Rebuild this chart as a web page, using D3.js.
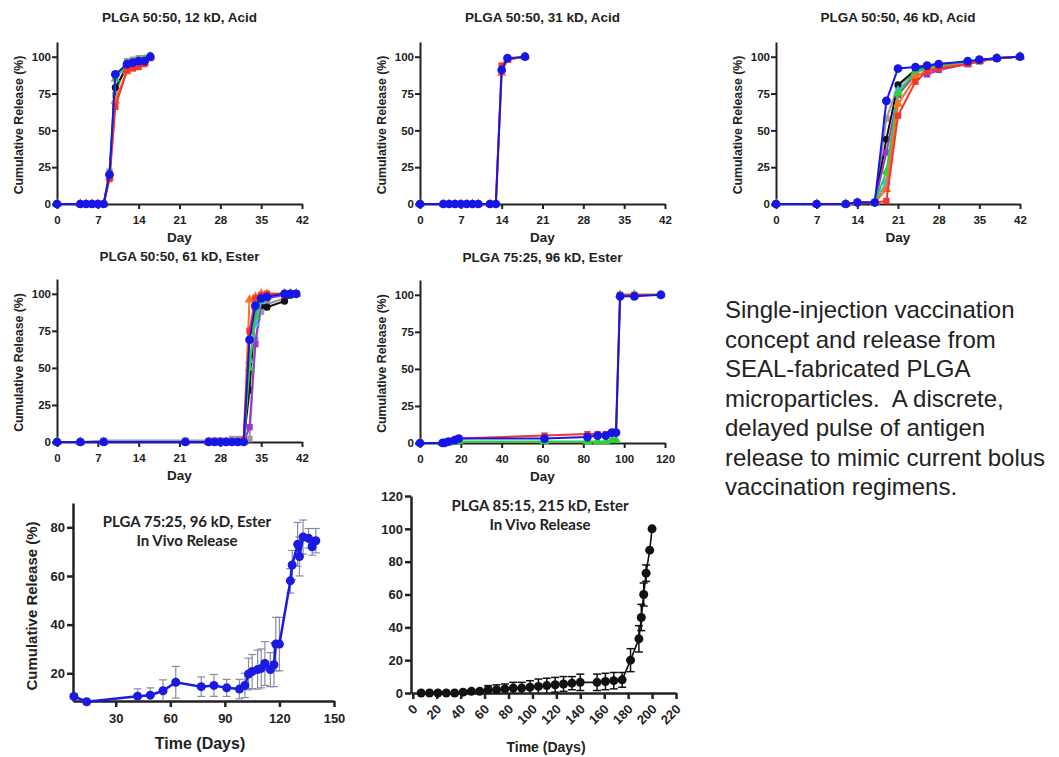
<!DOCTYPE html>
<html>
<head>
<meta charset="utf-8">
<script src="https://cdn.jsdelivr.net/npm/d3@7"></script>
<style>
  body { margin: 0; background: #fff; }
  svg { display: block; }
  .axis path, .axis line { stroke: #222; }
  .axis text { fill: #222; font-family: "Liberation Sans", Arial, sans-serif; font-weight: bold; }
</style>
</head>
<body>
<div id="chart"></div>
<script>
// ---- data ----
// panel 1 : PLGA 50:50, 12 kD, Acid
var p1Days = [0, 4, 5, 6, 7, 8, 9, 10, 12, 13, 14, 15, 16];
var p1Gray = [0, 0, 0, 0, 0, 0, 22, 74, 97, 98, 99, 99, 100];
var p1Black = [0, 0, 0, 0, 0, 0, 19, 79, 93, 95, 96, 97, 100];
var p1Green = [0, 0, 0, 0, 0, 0, 21, 85, 95, 96, 97, 98, 100];
var p1Orange = [0, 0, 0, 0, 0, 0, 18, 70, 90, 93, 95, 96, 100];
var p1Red = [0, 0, 0, 0, 0, 0, 17, 66, 91, 92, 93, 95, 99];
var p1Blue = [0, 0, 0, 0, 0, 0, 20, 88, 95, 96, 97, 97, 100];

// panel 2 : PLGA 50:50, 31 kD, Acid
var p2Days = [0, 4, 5, 6, 7, 8, 9, 10, 12, 13, 14, 15, 18];
var p2Orange = [0, 0, 0, 0, 0, 0, 0, 0, 0, 0, 89, 98, 100];
var p2Red = [0, 0, 0, 0, 0, 0, 0, 0, 0, 0, 94, 98, 100];
var p2Blue = [0, 0, 0, 0, 0, 0, 0, 0, 0, 0, 91, 99, 100];

// panel 3 : PLGA 50:50, 46 kD, Acid
var p3Days = [0, 7, 12, 14, 17, 19, 21, 24, 26, 28, 33, 35, 38, 42];
var p3Gray = [0, 0, 0, 1, 1, 58, 80, 90, 93, 94, 96, 97, 99, 100];
var p3Black = [0, 0, 0, 1, 1, 44, 81, 91, 94, 95, 96, 98, 99, 100];
var p3Purple = [0, 0, 0, 1, 1, 35, 74, 88, 88, 91, 95, 97, 99, 100];
var p3Cyan = [0, 0, 0, 1, 1, 15, 77, 89, 92, 93, 95, 97, 99, 100];
var p3Green = [0, 0, 0, 1, 1, 22, 75, 90, 93, 94, 96, 97, 99, 100];
var p3Orange = [0, 0, 0, 1, 1, 10, 68, 86, 91, 93, 95, 97, 99, 100];
var p3Red = [0, 0, 0, 1, 1, 2, 60, 83, 90, 92, 95, 97, 99, 100];
var p3Blue = [0, 0, 0, 1, 1, 70, 92, 93, 94, 95, 97, 98, 99, 100];

// panel 4 : PLGA 50:50, 61 kD, Ester
var p4Days = [0, 4, 8, 22, 26, 27, 28, 29, 30, 31, 32, 33, 34, 35, 36, 39, 40, 41];
var p4Gray = [0, 0, 1, 1, 1, 1, 1, 1, 2, 2, 2, 2, 69, 88, 93, 97, 99, 100];
var p4Black = [0, 0, 0, 0, 0, 0, 0, 0, 0, 0, 0, 35, 90, 92, 91, 95, 99, 100];
var p4Purple = [0, 0, 0, 0, 0, 0, 0, 0, 0, 0, 0, 10, 66, 95, 97, 99, 100, 100];
var p4Cyan = [0, 0, 0, 0, 0, 0, 0, 0, 0, 0, 0, 55, 80, 95, 98, 100, 100, 100];
var p4Green = [0, 0, 0, 0, 0, 0, 0, 0, 0, 0, 0, 50, 85, 96, 98, 100, 100, 100];
var p4Orange = [0, 0, 0, 0, 0, 0, 0, 0, 0, 0, 2, 96, 98, 100, 100, 100, 100, 100];
var p4Red = [0, 0, 0, 0, 0, 0, 0, 0, 0, 0, 1, 75, 97, 99, 100, 100, 100, 100];
var p4Blue = [0, 0, 0, 0, 0, 0, 0, 0, 0, 0, 0, 69, 92, 97, 98, 100, 100, 100];

// panel 5 : PLGA 75:25, 96 kD, Ester
var p5Days = [0, 11, 12, 14, 17, 19, 61, 82, 87, 91, 94, 96, 98, 105, 118];
var p5Green = [0, 0, 0, 0, 1, 1, 1, 1, 1, 1, 2, 2, 100, 100, 100];
var p5Red = [0, 0, 0, 1, 2, 3, 5, 6, 6, 6, 7, 7, 100, 100, 100];
var p5Blue = [0, 0, 0, 1, 2, 3, 3, 4, 5, 5, 7, 7, 99, 99, 100];

// panel 6 : PLGA 75:25, 96 kD, Ester, in vivo
var p6Days = [7, 14, 42, 49, 56, 63, 77, 84, 91, 98, 101, 103, 105, 108, 110, 112, 115, 117, 118, 120, 126, 127, 130, 131, 133, 136, 138, 140];
var p6Mean = [10.5, 8.3, 10.6, 11, 12.8, 16.3, 14.5, 15, 14, 13.5, 15, 19.7, 20.7, 21.5, 22, 24, 21.5, 23.5, 32, 32, 58, 64.5, 73, 68, 76, 75.5, 72, 74.5];
var p6Err = [1, 0.5, 3, 3, 4.5, 6.5, 4, 4.5, 3.5, 4, 5, 6.5, 7, 8, 8, 9, 7, 9, 11, 11, 5, 6, 9, 8, 7, 4, 3.5, 5];

// panel 7 : PLGA 85:15, 215 kD, Ester, in vivo
var p7Days = [7, 14, 21, 28, 35, 42, 49, 56, 63, 70, 77, 84, 91, 98, 105, 112, 119, 126, 133, 140, 154, 161, 168, 175, 182, 189, 191, 193, 195, 198, 200];
var p7Mean = [0, 0, 0, 0, 0, 0.5, 1, 1, 2, 2, 2.5, 3, 3, 3.5, 4, 4.5, 5, 5.5, 6, 6.5, 6.5, 7, 7.5, 8, 20, 33, 46, 60, 73, 87, 100];
var p7Err = [0, 0, 0, 0, 0, 0.5, 1, 1, 2.5, 3, 3, 3.5, 3.5, 4, 4.5, 4.5, 4.5, 4.5, 4, 5, 5, 5, 5, 4.5, 7, 8, 8, 7, 5, 0, 0];

var dayTicks42 = [0, 7, 14, 21, 28, 35, 42];
var dayTicks120 = [0, 20, 40, 60, 80, 100, 120];
var pctTicks = [0, 25, 50, 75, 100];
var vivoXTicks = [30, 60, 90, 120, 150];
var vivoYTicks = [20, 40, 60, 80];
var vivo2XTicks = d3.range(0, 221, 20);
var vivo2YTicks = d3.range(0, 121, 20);

var noteLines = [
  "Single-injection vaccination",
  "concept and release from",
  "SEAL-fabricated PLGA",
  "microparticles.  A discrete,",
  "delayed pulse of antigen",
  "release to mimic current bolus",
  "vaccination regimens."
];

// colours / symbols per series
var styles = {
  gray:   { color: "#9a9a9a", sym: d3.symbolSquare },
  black:  { color: "#111111", sym: d3.symbolCircle },
  purple: { color: "#9b35cf", sym: d3.symbolSquare },
  cyan:   { color: "#3cb8ea", sym: d3.symbolTriangle },
  green:  { color: "#2ed03a", sym: d3.symbolTriangle },
  orange: { color: "#ff6e1e", sym: d3.symbolTriangle },
  red:    { color: "#f2362a", sym: d3.symbolSquare },
  blue:   { color: "#1616e8", sym: d3.symbolCircle }
};

var W = 1059, H = 757;
var svg = d3.select("#chart").append("svg")
    .attr("width", W)
    .attr("height", H);

var font = "'Liberation Sans', Arial, sans-serif";

// small in-vitro panels
function smallPanel(cfg) {
  var x = d3.scaleLinear().domain(cfg.xDomain).range([cfg.left, cfg.right]);
  var y = d3.scaleLinear().domain([0, 110]).range([cfg.bottom, cfg.top]);
  var g = svg.append("g");

  g.append("g").attr("class", "axis")
      .attr("transform", `translate(0, ${cfg.bottom})`)
      .call(d3.axisBottom(x).tickValues(cfg.xTicks).tickSize(5).tickSizeOuter(0))
      .call(a => a.selectAll("path,line").attr("stroke-width", 2))
      .call(a => a.selectAll("text").attr("font-size", 11.5).attr("y", 12));

  g.append("g").attr("class", "axis")
      .attr("transform", `translate(${cfg.left}, 0)`)
      .call(d3.axisLeft(y).tickValues(pctTicks).tickSize(5).tickSizeOuter(0))
      .call(a => a.selectAll("path,line").attr("stroke-width", 2))
      .call(a => a.selectAll("text").attr("font-size", 11.5).attr("x", -6));

  var line = d3.line().x(d => x(d[0])).y(d => y(d[1]));
  cfg.series.forEach(function (s) {
    var st = styles[s.key];
    var pts = cfg.days.map((d, i) => [d, s.vals[i]]);
    g.append("path")
        .attr("d", line(pts))
        .attr("fill", "none")
        .attr("stroke", st.color)
        .attr("stroke-width", 2);
    g.selectAll(null).data(pts).enter().append("path")
        .attr("transform", d => `translate(${x(d[0])}, ${y(d[1])})`)
        .attr("d", d3.symbol().type(st.sym).size(s.key === "blue" ? 60 : 40))
        .attr("fill", st.color);
  });

  g.append("text")
      .attr("x", (cfg.left + cfg.right) / 2)
      .attr("y", cfg.titleY)
      .attr("text-anchor", "middle")
      .attr("font-family", font).attr("font-weight", "bold").attr("font-size", 13.5)
      .attr("fill", "#222")
      .text(cfg.title);

  g.append("text")
      .attr("x", (cfg.left + cfg.right) / 2)
      .attr("y", cfg.bottom + 38)
      .attr("text-anchor", "middle")
      .attr("font-family", font).attr("font-weight", "bold").attr("font-size", 13.5)
      .attr("fill", "#222")
      .text("Day");

  g.append("text")
      .attr("transform", `translate(${cfg.left - 34}, ${(cfg.top + cfg.bottom) / 2 + 2}) rotate(-90)`)
      .attr("text-anchor", "middle")
      .attr("font-family", font).attr("font-weight", "bold").attr("font-size", 12.3)
      .attr("fill", "#222")
      .text("Cumulative Release (%)");
}

smallPanel({
  title: "PLGA 50:50, 12 kD, Acid", titleY: 22,
  left: 57, right: 302, top: 42, bottom: 204,
  xDomain: [0, 42], xTicks: dayTicks42, days: p1Days,
  series: [
    { key: "gray", vals: p1Gray }, { key: "black", vals: p1Black },
    { key: "green", vals: p1Green }, { key: "orange", vals: p1Orange },
    { key: "red", vals: p1Red }, { key: "blue", vals: p1Blue }
  ]
});

smallPanel({
  title: "PLGA 50:50, 31 kD, Acid", titleY: 22,
  left: 420, right: 665, top: 42, bottom: 204,
  xDomain: [0, 42], xTicks: dayTicks42, days: p2Days,
  series: [
    { key: "orange", vals: p2Orange }, { key: "red", vals: p2Red },
    { key: "blue", vals: p2Blue }
  ]
});

smallPanel({
  title: "PLGA 50:50, 46 kD, Acid", titleY: 22,
  left: 776, right: 1020, top: 42, bottom: 204,
  xDomain: [0, 42], xTicks: dayTicks42, days: p3Days,
  series: [
    { key: "gray", vals: p3Gray }, { key: "black", vals: p3Black },
    { key: "purple", vals: p3Purple }, { key: "cyan", vals: p3Cyan },
    { key: "green", vals: p3Green }, { key: "orange", vals: p3Orange },
    { key: "red", vals: p3Red }, { key: "blue", vals: p3Blue }
  ]
});

smallPanel({
  title: "PLGA 50:50, 61 kD, Ester", titleY: 261,
  left: 57, right: 302, top: 279, bottom: 442,
  xDomain: [0, 42], xTicks: dayTicks42, days: p4Days,
  series: [
    { key: "gray", vals: p4Gray }, { key: "black", vals: p4Black },
    { key: "purple", vals: p4Purple }, { key: "cyan", vals: p4Cyan },
    { key: "green", vals: p4Green }, { key: "orange", vals: p4Orange },
    { key: "red", vals: p4Red }, { key: "blue", vals: p4Blue }
  ]
});

smallPanel({
  title: "PLGA 75:25, 96 kD, Ester", titleY: 262,
  left: 420, right: 665, top: 280, bottom: 443,
  xDomain: [0, 120], xTicks: dayTicks120, days: p5Days,
  series: [
    { key: "green", vals: p5Green }, { key: "red", vals: p5Red },
    { key: "blue", vals: p5Blue }
  ]
});

// in vivo panels with error bars
function vivoPanel(cfg) {
  var x = d3.scaleLinear().domain(cfg.xDomain).range([cfg.left, cfg.right]);
  var y = d3.scaleLinear().domain(cfg.yDomain).range([cfg.bottom, cfg.top]);
  var g = svg.append("g");

  var xa = g.append("g").attr("class", "axis")
      .attr("transform", `translate(0, ${cfg.bottom})`)
      .call(d3.axisBottom(x).tickValues(cfg.xTicks).tickSize(6).tickSizeOuter(0))
      .call(a => a.selectAll("path,line").attr("stroke-width", 2.5))
      .call(a => a.selectAll("text").attr("font-size", 13));
  if (cfg.rotate) {
    xa.selectAll("text")
        .attr("y", 0).attr("x", 0).attr("dy", 0)
        .attr("transform", "translate(5, 17) rotate(-45)")
        .style("text-anchor", "end");
  } else {
    xa.selectAll("text").attr("y", 13);
  }

  g.append("g").attr("class", "axis")
      .attr("transform", `translate(${cfg.left}, 0)`)
      .call(d3.axisLeft(y).tickValues(cfg.yTicks).tickSize(6).tickSizeOuter(0))
      .call(a => a.selectAll("path,line").attr("stroke-width", 2.5))
      .call(a => a.selectAll("text").attr("font-size", 13).attr("x", -8));

  var pts = cfg.days.map((d, i) => ({ d: d, m: cfg.mean[i], e: cfg.err[i] }));

  var eb = g.append("g")
      .attr("stroke", cfg.errColor)
      .attr("stroke-width", cfg.errWidth)
      .attr("fill", "none");
  pts.filter(p => p.e > 0).forEach(function (p) {
    var cx = x(p.d), y0 = y(Math.max(p.m - p.e, cfg.yDomain[0])), y1 = y(p.m + p.e);
    eb.append("line").attr("x1", cx).attr("x2", cx).attr("y1", y0).attr("y2", y1);
    eb.append("line").attr("x1", cx - 4).attr("x2", cx + 4).attr("y1", y1).attr("y2", y1);
    if (p.m - p.e > cfg.yDomain[0])
      eb.append("line").attr("x1", cx - 4).attr("x2", cx + 4).attr("y1", y0).attr("y2", y0);
  });

  g.append("path")
      .attr("d", d3.line().x(p => x(p.d)).y(p => y(p.m))(pts))
      .attr("fill", "none")
      .attr("stroke", cfg.color)
      .attr("stroke-width", cfg.lineWidth);

  g.selectAll(null).data(pts).enter().append("circle")
      .attr("cx", p => x(p.d))
      .attr("cy", p => y(p.m))
      .attr("r", 4.5)
      .attr("fill", cfg.color);

  cfg.title.forEach(function (t, i) {
    g.append("text")
        .attr("x", cfg.titleX)
        .attr("y", cfg.titleY + i * 19)
        .attr("text-anchor", "middle")
        .attr("font-family", "Lato, 'Open Sans', sans-serif")
        .attr("font-weight", "bold").attr("font-size", 15)
        .attr("fill", "#222")
        .text(t);
  });

  g.append("text")
      .attr("x", cfg.xLabelX)
      .attr("y", cfg.xLabelY)
      .attr("text-anchor", "middle")
      .attr("font-family", font).attr("font-weight", "bold").attr("font-size", cfg.xLabelSize)
      .attr("fill", "#222")
      .text("Time (Days)");

  if (cfg.yLabel) {
    g.append("text")
        .attr("transform", `translate(${cfg.left - 36}, ${(cfg.top + cfg.bottom) / 2 + 4}) rotate(-90)`)
        .attr("text-anchor", "middle")
        .attr("font-family", font).attr("font-weight", "bold").attr("font-size", 15)
        .attr("fill", "#222")
        .text(cfg.yLabel);
  }
}

vivoPanel({
  left: 73, right: 334, top: 503, bottom: 701,
  xDomain: [6.5, 150], yDomain: [8.6, 90],
  xTicks: vivoXTicks, yTicks: vivoYTicks,
  days: p6Days, mean: p6Mean, err: p6Err,
  color: "#1a1ae0", lineWidth: 2.5, errColor: "#8a8aa6", errWidth: 1.2,
  title: ["PLGA 75:25, 96 kD, Ester", "In Vivo Release"], titleX: 187, titleY: 527,
  xLabelX: 200, xLabelY: 749, xLabelSize: 16,
  yLabel: "Cumulative Release (%)"
});

vivoPanel({
  left: 411, right: 676, top: 496, bottom: 693,
  xDomain: [-1.5, 220], yDomain: [0, 120],
  xTicks: vivo2XTicks, yTicks: vivo2YTicks, rotate: true,
  days: p7Days, mean: p7Mean, err: p7Err,
  color: "#111", lineWidth: 1.6, errColor: "#111", errWidth: 1.5,
  title: ["PLGA 85:15, 215 kD, Ester", "In Vivo Release"], titleX: 540, titleY: 511,
  xLabelX: 546, xLabelY: 752, xLabelSize: 14
});

// caption text on the right
svg.append("g").selectAll("text")
    .data(noteLines)
    .enter()
    .append("text")
    .attr("x", 725)
    .attr("y", (d, i) => 318 + i * 29.5)
    .attr("font-family", font)
    .attr("font-size", 24)
    .attr("fill", "#222")
    .style("white-space", "pre")
    .text(d => d);
</script>
</body>
</html>
